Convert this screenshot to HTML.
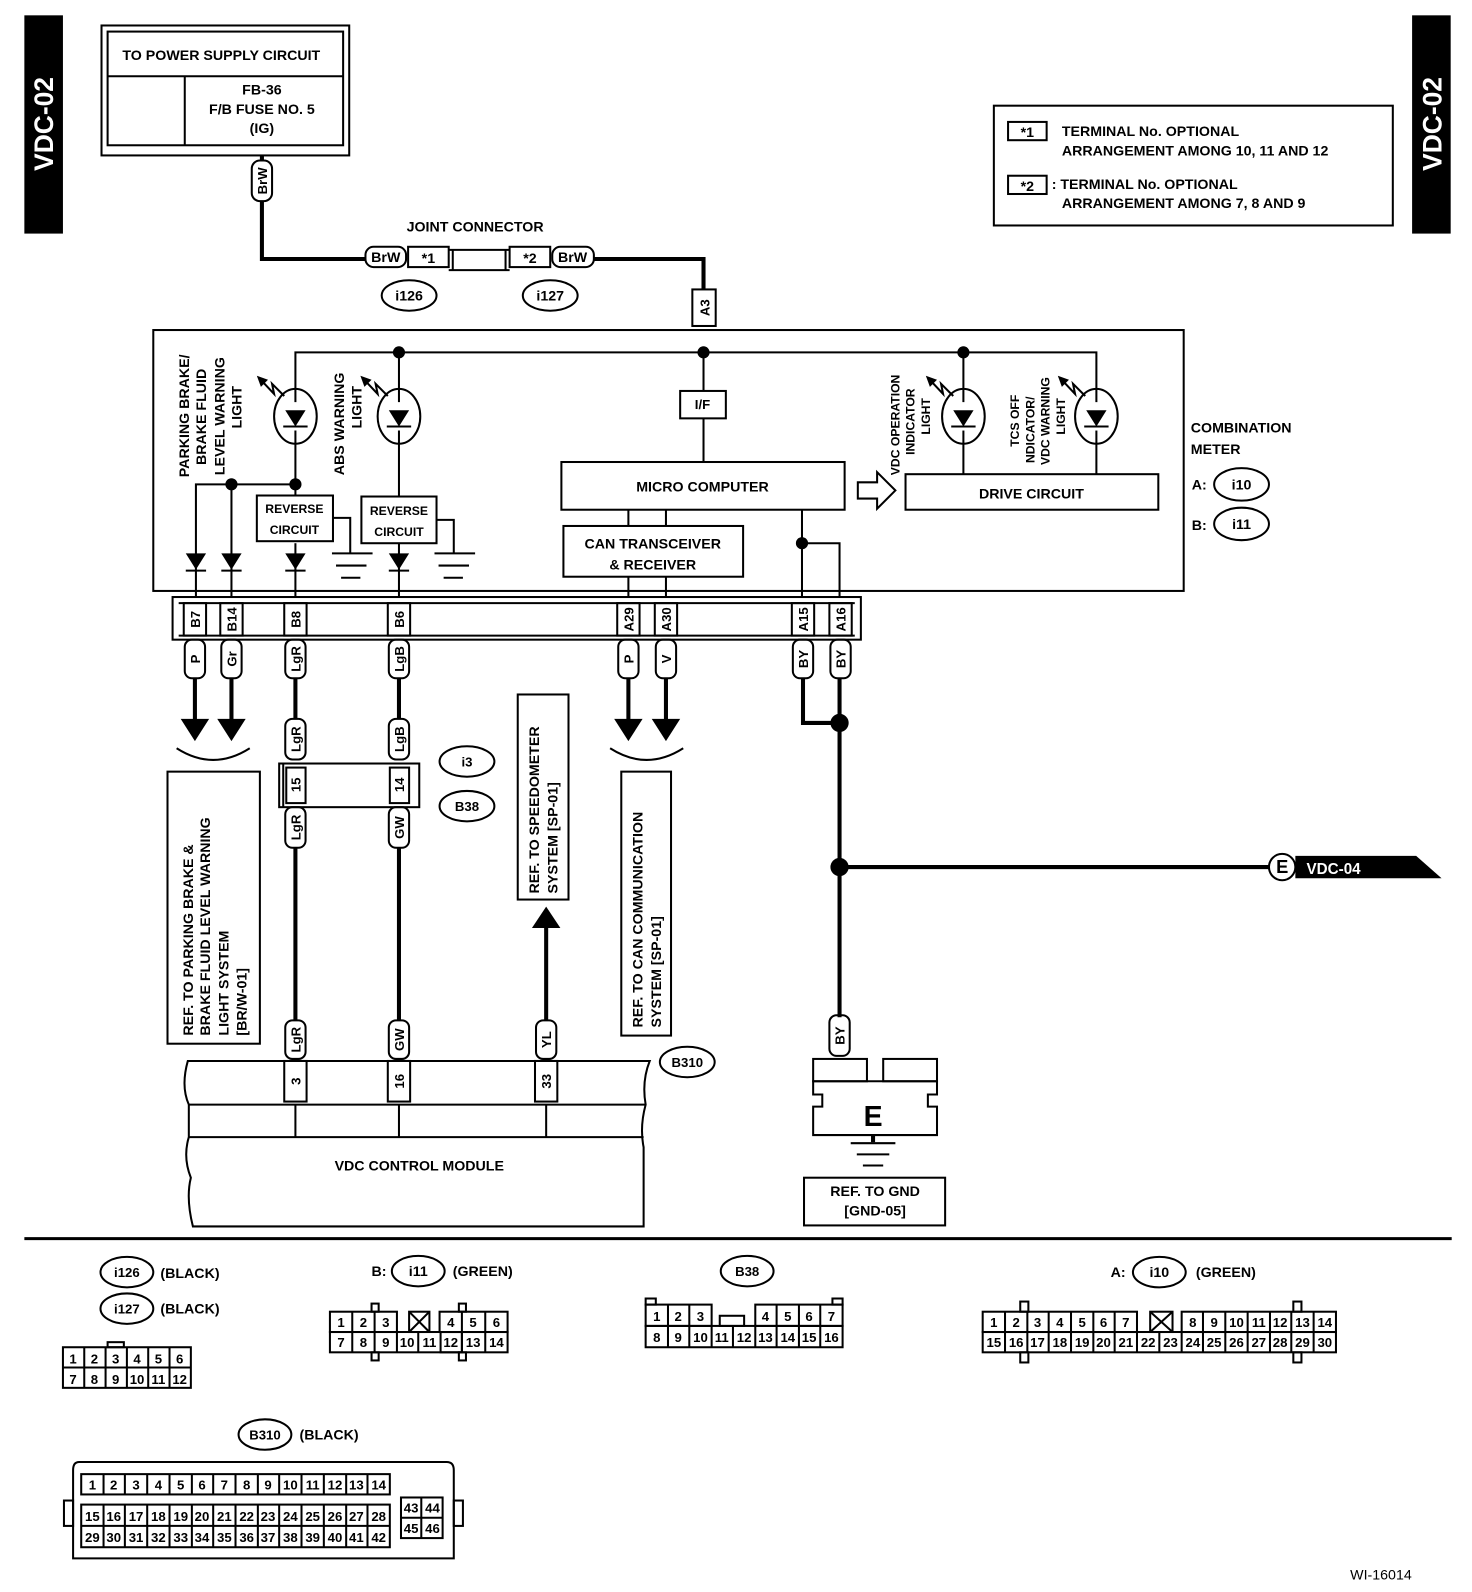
<!DOCTYPE html>
<html><head><meta charset="utf-8"><style>
html,body{margin:0;padding:0;background:#fff;}
svg{display:block;}
text{font-family:"Liberation Sans",sans-serif;font-weight:bold;fill:#000;}
</style></head><body>
<svg width="1472" height="1592" viewBox="0 0 1450 1568" xmlns="http://www.w3.org/2000/svg">
<rect width="1472" height="1592" fill="#fff"/>
<rect x="24" y="15" width="38" height="215" fill="#000"/>
<text transform="translate(52,122) rotate(-90)" text-anchor="middle" font-size="26" style="fill:#fff">VDC-02</text>
<rect x="1391" y="15" width="38" height="215" fill="#000"/>
<text transform="translate(1420,122) rotate(-90)" text-anchor="middle" font-size="26" style="fill:#fff">VDC-02</text>

<g fill="none" stroke="#000" stroke-width="2">
<rect x="100" y="25" width="244" height="128"/>
<rect x="106" y="31" width="232" height="112"/>
<line x1="106" y1="75" x2="338" y2="75"/>
<line x1="182" y1="75" x2="182" y2="143"/>
<polyline points="258,153 258,255 362,255" stroke-width="4"/>
<polyline points="585,255 693,255 693,285" stroke-width="4"/>
<rect x="402" y="243" width="40" height="20"/>
<line x1="442" y1="246" x2="502" y2="246"/>
<line x1="442" y1="266" x2="502" y2="266"/>
<line x1="446" y1="246" x2="446" y2="266"/>
<line x1="498" y1="246" x2="498" y2="266"/>
<rect x="502" y="243" width="40" height="20"/>
<rect x="360" y="243" width="40" height="20" rx="8" fill="#fff"/>
<rect x="544" y="243" width="41" height="20" rx="8" fill="#fff"/>
<rect x="248" y="158" width="20" height="40" rx="8" fill="#fff"/>
<ellipse cx="403" cy="291" rx="27" ry="15"/>
<ellipse cx="542" cy="291" rx="27" ry="15"/>
<rect x="682" y="285" width="23" height="36" fill="#fff"/>
<rect x="979" y="104" width="393" height="118"/>
<rect x="993" y="120" width="38" height="18"/>
<rect x="993" y="173" width="38" height="18"/>
<rect x="151" y="325" width="1015" height="257"/>
<rect x="170" y="588" width="678" height="42"/>
<line x1="176" y1="594" x2="842" y2="594"/>
<line x1="176" y1="626" x2="842" y2="626"/>
<polyline points="291,396 291,347 1080,347 1080,396"/>
<line x1="393" y1="347" x2="393" y2="396"/>
<line x1="693" y1="347" x2="693" y2="385"/>
<line x1="693" y1="412" x2="693" y2="455"/>
<line x1="949" y1="347" x2="949" y2="396"/>
<ellipse cx="291" cy="410" rx="21" ry="27"/>
<ellipse cx="393" cy="410" rx="21" ry="27"/>
<ellipse cx="949" cy="410" rx="21" ry="27"/>
<ellipse cx="1080" cy="410" rx="21" ry="27"/>
<line x1="291" y1="424" x2="291" y2="488"/>
<line x1="393" y1="424" x2="393" y2="488"/>
<line x1="949" y1="424" x2="949" y2="467"/>
<line x1="1080" y1="424" x2="1080" y2="467"/>
<line x1="279" y1="420" x2="303" y2="420"/>
<line x1="381" y1="420" x2="405" y2="420"/>
<line x1="937" y1="420" x2="961" y2="420"/>
<line x1="1068" y1="420" x2="1092" y2="420"/>
<path d="M255,372 L270,388 L268,378 L280,390"/>
<path d="M357,372 L372,388 L370,378 L382,390"/>
<path d="M914,372 L929,388 L927,378 L939,390"/>
<path d="M1044,372 L1059,388 L1057,378 L1069,390"/>
<polyline points="193,588 193,477 291,477"/>
<line x1="228" y1="477" x2="228" y2="588"/>
<line x1="291" y1="535" x2="291" y2="588"/>
<line x1="393" y1="535" x2="393" y2="588"/>
<rect x="253" y="488" width="75" height="45"/>
<rect x="356" y="489" width="74" height="46"/>
<polyline points="328,510 345,510 345,545"/>
<polyline points="430,512 447,512 447,545"/>
<line x1="327" y1="545" x2="367" y2="545"/><line x1="331" y1="557" x2="361" y2="557"/><line x1="336" y1="569" x2="355" y2="569"/>
<line x1="428" y1="545" x2="468" y2="545"/><line x1="432" y1="557" x2="462" y2="557"/><line x1="437" y1="569" x2="456" y2="569"/>
<line x1="183" y1="562" x2="203" y2="562"/><line x1="218" y1="562" x2="238" y2="562"/><line x1="281" y1="562" x2="301" y2="562"/><line x1="383" y1="562" x2="403" y2="562"/>
<rect x="670" y="385" width="45" height="27"/>
<rect x="553" y="455" width="279" height="47"/>
<rect x="555" y="518" width="177" height="50"/>
<line x1="619" y1="502" x2="619" y2="518"/><line x1="656" y1="502" x2="656" y2="518"/>
<line x1="619" y1="568" x2="619" y2="588"/><line x1="656" y1="568" x2="656" y2="588"/>
<line x1="790" y1="502" x2="790" y2="588"/>
<polyline points="790,535 827,535 827,588"/>
<path d="M845,475 L864,475 L864,465 L882,483 L864,501 L864,491 L845,491 Z"/>
<rect x="892" y="467" width="249" height="35"/>
<rect x="181" y="594" width="22" height="32"/><rect x="217" y="594" width="22" height="32"/>
<rect x="280" y="594" width="22" height="32"/><rect x="382" y="594" width="22" height="32"/>
<rect x="608" y="594" width="22" height="32"/><rect x="645" y="594" width="22" height="32"/>
<rect x="780" y="594" width="22" height="32"/><rect x="817" y="594" width="22" height="32"/>
<rect x="182" y="630" width="20" height="38" rx="7"/><rect x="218" y="630" width="20" height="38" rx="7"/>
<rect x="281" y="630" width="20" height="38" rx="7"/><rect x="383" y="630" width="20" height="38" rx="7"/>
<rect x="609" y="630" width="20" height="38" rx="7"/><rect x="646" y="630" width="20" height="38" rx="7"/>
<rect x="781" y="630" width="20" height="38" rx="7"/><rect x="818" y="630" width="20" height="38" rx="7"/>
</g>
<g fill="#000">
<circle cx="393" cy="347" r="6"/><circle cx="693" cy="347" r="6"/><circle cx="949" cy="347" r="6"/>
<circle cx="291" cy="477" r="6"/><circle cx="228" cy="477" r="6"/><circle cx="790" cy="535" r="6"/>
<polygon points="281,404 301,404 291,420"/><polygon points="383,404 403,404 393,420"/>
<polygon points="939,404 959,404 949,420"/><polygon points="1070,404 1090,404 1080,420"/>
<polygon points="253,370 264,374 257,381"/><polygon points="355,370 366,374 359,381"/>
<polygon points="912,370 923,374 916,381"/><polygon points="1042,370 1053,374 1046,381"/>
<polygon points="183,545 203,545 193,561"/><polygon points="218,545 238,545 228,561"/>
<polygon points="281,545 301,545 291,561"/><polygon points="383,545 403,545 393,561"/>
</g>
<g font-size="14">
<text x="218" y="59" text-anchor="middle">TO POWER SUPPLY CIRCUIT</text>
<text x="258" y="93" text-anchor="middle">FB-36</text>
<text x="258" y="112" text-anchor="middle">F/B FUSE NO. 5</text>
<text x="258" y="131" text-anchor="middle">(IG)</text>
<text transform="translate(263,178) rotate(-90)" text-anchor="middle" font-size="13">BrW</text>
<text x="468" y="228" text-anchor="middle">JOINT CONNECTOR</text>
<text x="380" y="258" text-anchor="middle">BrW</text>
<text x="422" y="259" text-anchor="middle">*1</text>
<text x="522" y="259" text-anchor="middle">*2</text>
<text x="564" y="258" text-anchor="middle">BrW</text>
<text x="403" y="296" text-anchor="middle">i126</text>
<text x="542" y="296" text-anchor="middle">i127</text>
<text transform="translate(699,303) rotate(-90)" text-anchor="middle" font-size="13">A3</text>
<text x="1012" y="135" text-anchor="middle">*1</text>
<text x="1012" y="188" text-anchor="middle">*2</text>
<text x="1046" y="134">TERMINAL No. OPTIONAL</text>
<text x="1046" y="153">ARRANGEMENT AMONG 10, 11  AND 12</text>
<text x="1036" y="186">: TERMINAL No. OPTIONAL</text>
<text x="1046" y="205">ARRANGEMENT AMONG 7, 8  AND 9</text>
<text x="1173" y="426">COMBINATION</text>
<text x="1173" y="447">METER</text>
<text x="1174" y="482">A:</text><text x="1174" y="522">B:</text>
<text x="692" y="403" text-anchor="middle" font-size="13">I/F</text>
<text x="692" y="484" text-anchor="middle">MICRO COMPUTER</text>
<text x="643" y="540" text-anchor="middle">CAN TRANSCEIVER</text>
<text x="643" y="561" text-anchor="middle">&amp; RECEIVER</text>
<text x="1016" y="491" text-anchor="middle">DRIVE CIRCUIT</text>
<text x="290" y="505" text-anchor="middle" font-size="12">REVERSE</text>
<text x="290" y="526" text-anchor="middle" font-size="12">CIRCUIT</text>
<text x="393" y="507" text-anchor="middle" font-size="12">REVERSE</text>
<text x="393" y="528" text-anchor="middle" font-size="12">CIRCUIT</text>
</g>
<g font-size="14" text-anchor="start">
<text transform="translate(186,470) rotate(-90)">PARKING BRAKE/</text>
<text transform="translate(203,458) rotate(-90)">BRAKE FLUID</text>
<text transform="translate(221,468) rotate(-90)">LEVEL WARNING</text>
<text transform="translate(238,422) rotate(-90)">LIGHT</text>
<text transform="translate(339,468) rotate(-90)">ABS WARNING</text>
<text transform="translate(356,422) rotate(-90)">LIGHT</text>
</g>
<g font-size="12" text-anchor="start">
<text transform="translate(886,468) rotate(-90)">VDC OPERATION</text>
<text transform="translate(901,448) rotate(-90)">INDICATOR</text>
<text transform="translate(916,428) rotate(-90)">LIGHT</text>
<text transform="translate(1004,440) rotate(-90)">TCS OFF</text>
<text transform="translate(1019,456) rotate(-90)">NDICATOR/</text>
<text transform="translate(1034,458) rotate(-90)">VDC WARNING</text>
<text transform="translate(1049,428) rotate(-90)">LIGHT</text>
</g>
<g fill="none" stroke="#000" stroke-width="2">
<ellipse cx="1223" cy="477" rx="27" ry="16"/>
<ellipse cx="1223" cy="516" rx="27" ry="16"/>
</g>
<g font-size="14" text-anchor="middle">
<text x="1223" y="482">i10</text><text x="1223" y="521">i11</text>
</g>
<g font-size="13" text-anchor="middle">
<text transform="translate(197,610) rotate(-90)">B7</text>
<text transform="translate(233,610) rotate(-90)">B14</text>
<text transform="translate(296,610) rotate(-90)">B8</text>
<text transform="translate(398,610) rotate(-90)">B6</text>
<text transform="translate(624,610) rotate(-90)">A29</text>
<text transform="translate(661,610) rotate(-90)">A30</text>
<text transform="translate(796,610) rotate(-90)">A15</text>
<text transform="translate(833,610) rotate(-90)">A16</text>
<text transform="translate(197,649) rotate(-90)">P</text>
<text transform="translate(233,649) rotate(-90)">Gr</text>
<text transform="translate(296,649) rotate(-90)">LgR</text>
<text transform="translate(398,649) rotate(-90)">LgB</text>
<text transform="translate(624,649) rotate(-90)">P</text>
<text transform="translate(661,649) rotate(-90)">V</text>
<text transform="translate(796,649) rotate(-90)">BY</text>
<text transform="translate(833,649) rotate(-90)">BY</text>
</g>

<g fill="none" stroke="#000" stroke-width="4">
<line x1="192" y1="668" x2="192" y2="710"/><line x1="228" y1="668" x2="228" y2="710"/>
<line x1="619" y1="668" x2="619" y2="710"/><line x1="656" y1="668" x2="656" y2="710"/>
<line x1="291" y1="668" x2="291" y2="708"/><line x1="393" y1="668" x2="393" y2="708"/>
<line x1="291" y1="835" x2="291" y2="1005"/><line x1="393" y1="835" x2="393" y2="1005"/>
<line x1="538" y1="1005" x2="538" y2="912"/>
<polyline points="791,668 791,712 827,712"/>
<line x1="827" y1="668" x2="827" y2="1002"/>
<line x1="827" y1="854" x2="1250" y2="854"/>
<line x1="860" y1="1118" x2="860" y2="1125"/>
</g>
<g fill="#000">
<polygon points="178,708 206,708 192,730"/><polygon points="214,708 242,708 228,730"/>
<polygon points="605,708 633,708 619,730"/><polygon points="642,708 670,708 656,730"/>
<polygon points="524,914 552,914 538,893"/>
<circle cx="827" cy="712" r="9"/><circle cx="827" cy="854" r="9"/>
<path d="M1276,843 L1395,843 L1420,865 L1276,865 Z"/>
</g>
<g fill="none" stroke="#000" stroke-width="2">
<path d="M174,737 Q210,760 246,737"/>
<path d="M601,737 Q637,760 673,737"/>
<rect x="165" y="760" width="91" height="268"/>
<rect x="612" y="760" width="49" height="260"/>
<rect x="510" y="684" width="50" height="202"/>
<rect x="281" y="708" width="20" height="40" rx="7"/><rect x="383" y="708" width="20" height="40" rx="7"/>
<rect x="275" y="752" width="138" height="43"/>
<line x1="279" y1="752" x2="279" y2="795"/>
<rect x="282" y="756" width="19" height="35"/><rect x="384" y="756" width="19" height="35"/>
<rect x="281" y="795" width="20" height="40" rx="7"/><rect x="383" y="795" width="20" height="40" rx="7"/>
<ellipse cx="460" cy="750" rx="27" ry="15"/><ellipse cx="460" cy="794" rx="27" ry="15"/>
<rect x="281" y="1005" width="20" height="38" rx="7"/><rect x="383" y="1005" width="20" height="38" rx="7"/><rect x="528" y="1005" width="20" height="38" rx="7"/>
<rect x="817" y="1000" width="20" height="40" rx="7"/>
<circle cx="1263" cy="854" r="13" fill="#fff"/>
<path d="M185,1045 L640,1045 Q632,1065 636,1088 Q630,1110 634,1130 L634,1208 L190,1208 Q183,1180 188,1160 Q180,1140 186,1120 L186,1088 Q178,1070 185,1045 Z"/>
<line x1="186" y1="1088" x2="636" y2="1088"/>
<line x1="186" y1="1120" x2="634" y2="1120"/>
<line x1="291" y1="1088" x2="291" y2="1120"/><line x1="393" y1="1088" x2="393" y2="1120"/><line x1="538" y1="1088" x2="538" y2="1120"/>
<rect x="280" y="1045" width="22" height="40"/><rect x="382" y="1045" width="22" height="40"/><rect x="527" y="1045" width="22" height="40"/>
<ellipse cx="677" cy="1046" rx="27" ry="15"/>
<rect x="801" y="1043" width="53" height="22"/><rect x="870" y="1043" width="53" height="22"/>
<path d="M801,1065 L923,1065 L923,1078 L914,1078 L914,1090 L923,1090 L923,1118 L801,1118 L801,1090 L810,1090 L810,1078 L801,1078 Z"/>
<line x1="838" y1="1126" x2="882" y2="1126"/><line x1="844" y1="1137" x2="876" y2="1137"/><line x1="850" y1="1148" x2="870" y2="1148"/>
<rect x="792" y="1160" width="139" height="47"/>
</g>
<line x1="24" y1="1220" x2="1430" y2="1220" stroke="#000" stroke-width="3"/>
<g font-size="14">
<text transform="translate(190,1020) rotate(-90)">REF. TO PARKING BRAKE &amp;</text>
<text transform="translate(207,1020) rotate(-90)">BRAKE FLUID LEVEL WARNING</text>
<text transform="translate(225,1020) rotate(-90)">LIGHT SYSTEM</text>
<text transform="translate(243,1020) rotate(-90)">[BR/W-01]</text>
<text transform="translate(633,1012) rotate(-90)">REF. TO CAN COMMUNICATION</text>
<text transform="translate(651,1012) rotate(-90)">SYSTEM [SP-01]</text>
<text transform="translate(531,880) rotate(-90)">REF. TO SPEEDOMETER</text>
<text transform="translate(549,880) rotate(-90)">SYSTEM [SP-01]</text>
<text x="413" y="1153" text-anchor="middle">VDC CONTROL MODULE</text>
<text x="862" y="1178" text-anchor="middle">REF. TO GND</text>
<text x="862" y="1197" text-anchor="middle">[GND-05]</text>
<text x="860" y="1109" text-anchor="middle" font-size="28">E</text>
<text x="1263" y="860" text-anchor="middle" font-size="18">E</text>
<text x="1287" y="861" font-size="15" style="fill:#fff">VDC-04</text>
<text x="460" y="755" text-anchor="middle" font-size="13">i3</text>
<text x="460" y="799" text-anchor="middle" font-size="13">B38</text>
<text x="677" y="1051" text-anchor="middle" font-size="13">B310</text>
</g>
<g font-size="13" text-anchor="middle">
<text transform="translate(296,728) rotate(-90)">LgR</text>
<text transform="translate(398,728) rotate(-90)">LgB</text>
<text transform="translate(296,773) rotate(-90)">15</text>
<text transform="translate(398,773) rotate(-90)">14</text>
<text transform="translate(296,815) rotate(-90)">LgR</text>
<text transform="translate(398,815) rotate(-90)">GW</text>
<text transform="translate(296,1024) rotate(-90)">LgR</text>
<text transform="translate(398,1024) rotate(-90)">GW</text>
<text transform="translate(543,1024) rotate(-90)">YL</text>
<text transform="translate(832,1020) rotate(-90)">BY</text>
<text transform="translate(296,1065) rotate(-90)">3</text>
<text transform="translate(398,1065) rotate(-90)">16</text>
<text transform="translate(543,1065) rotate(-90)">33</text>
</g>

<g fill="none" stroke="#000" stroke-width="2">
<ellipse cx="125" cy="1253" rx="26" ry="15"/><ellipse cx="125" cy="1289" rx="26" ry="15"/>
<ellipse cx="412" cy="1252" rx="26" ry="15"/><ellipse cx="736" cy="1252" rx="26" ry="15"/>
<ellipse cx="1142" cy="1253" rx="26" ry="15"/><ellipse cx="261" cy="1413" rx="26" ry="15"/>
<rect x="62" y="1327" width="126" height="40"/><line x1="62" y1="1347" x2="188" y2="1347"/>
<line x1="83" y1="1327" x2="83" y2="1367"/><line x1="104" y1="1327" x2="104" y2="1367"/><line x1="125" y1="1327" x2="125" y2="1367"/><line x1="146" y1="1327" x2="146" y2="1367"/><line x1="167" y1="1327" x2="167" y2="1367"/>
<rect x="106" y="1322" width="16" height="5"/>
<rect x="325" y="1292" width="66" height="20"/><rect x="433" y="1292" width="67" height="20"/>
<rect x="325" y="1312" width="175" height="20"/>
<line x1="347" y1="1292" x2="347" y2="1332"/><line x1="369" y1="1292" x2="369" y2="1332"/><line x1="391" y1="1312" x2="391" y2="1332"/>
<line x1="412" y1="1312" x2="412" y2="1332"/><line x1="455" y1="1292" x2="455" y2="1332"/><line x1="478" y1="1292" x2="478" y2="1332"/>
<rect x="403" y="1292" width="20" height="20"/><line x1="403" y1="1292" x2="423" y2="1312"/><line x1="423" y1="1292" x2="403" y2="1312"/>
<rect x="434" y="1312" width="21" height="20"/>
<rect x="366" y="1284" width="7" height="8"/><rect x="452" y="1284" width="7" height="8"/>
<rect x="366" y="1332" width="7" height="8"/><rect x="452" y="1332" width="7" height="8"/>
<rect x="636" y="1285" width="65" height="21"/><rect x="744" y="1285" width="86" height="21"/>
<rect x="636" y="1306" width="194" height="21"/>
<line x1="658" y1="1285" x2="658" y2="1327"/><line x1="679" y1="1285" x2="679" y2="1327"/><line x1="701" y1="1306" x2="701" y2="1327"/>
<line x1="722" y1="1306" x2="722" y2="1327"/><line x1="744" y1="1306" x2="744" y2="1327"/><line x1="765" y1="1285" x2="765" y2="1327"/>
<line x1="787" y1="1285" x2="787" y2="1327"/><line x1="808" y1="1285" x2="808" y2="1327"/>
<rect x="709" y="1296" width="24" height="10"/>
<rect x="636" y="1279" width="10" height="6"/><rect x="820" y="1279" width="10" height="6"/>
<rect x="968" y="1292" width="152" height="20"/><rect x="1164" y="1292" width="152" height="20"/>
<rect x="968" y="1312" width="348" height="20"/>
<line x1="990" y1="1292" x2="990" y2="1332"/><line x1="1012" y1="1292" x2="1012" y2="1332"/><line x1="1033" y1="1292" x2="1033" y2="1332"/><line x1="1055" y1="1292" x2="1055" y2="1332"/><line x1="1077" y1="1292" x2="1077" y2="1332"/><line x1="1098" y1="1292" x2="1098" y2="1332"/>
<line x1="1120" y1="1312" x2="1120" y2="1332"/><line x1="1142" y1="1312" x2="1142" y2="1332"/><line x1="1164" y1="1312" x2="1164" y2="1332"/>
<line x1="1185" y1="1292" x2="1185" y2="1332"/><line x1="1207" y1="1292" x2="1207" y2="1332"/><line x1="1229" y1="1292" x2="1229" y2="1332"/><line x1="1251" y1="1292" x2="1251" y2="1332"/><line x1="1272" y1="1292" x2="1272" y2="1332"/><line x1="1294" y1="1292" x2="1294" y2="1332"/>
<rect x="1133" y="1292" width="22" height="20"/><line x1="1133" y1="1292" x2="1155" y2="1312"/><line x1="1155" y1="1292" x2="1133" y2="1312"/>
<rect x="1005" y="1282" width="8" height="10"/><rect x="1274" y="1282" width="8" height="10"/>
<rect x="1005" y="1332" width="8" height="10"/><rect x="1274" y="1332" width="8" height="10"/>
<path d="M78,1440 L440,1440 Q447,1440 447,1448 L447,1535 L72,1535 L72,1448 Q72,1440 78,1440 Z"/>
<rect x="63" y="1478" width="9" height="25"/><rect x="447" y="1478" width="9" height="25"/>
<rect x="80" y="1452" width="304" height="20"/>
<rect x="80" y="1482" width="304" height="42"/><line x1="80" y1="1503" x2="384" y2="1503"/>
<rect x="395" y="1475" width="41" height="40"/><line x1="395" y1="1495" x2="436" y2="1495"/><line x1="415" y1="1475" x2="415" y2="1515"/>
<g>
<line x1="102" y1="1452" x2="102" y2="1472"/><line x1="123" y1="1452" x2="123" y2="1472"/><line x1="145" y1="1452" x2="145" y2="1472"/><line x1="167" y1="1452" x2="167" y2="1472"/><line x1="189" y1="1452" x2="189" y2="1472"/><line x1="210" y1="1452" x2="210" y2="1472"/><line x1="232" y1="1452" x2="232" y2="1472"/><line x1="254" y1="1452" x2="254" y2="1472"/><line x1="275" y1="1452" x2="275" y2="1472"/><line x1="297" y1="1452" x2="297" y2="1472"/><line x1="319" y1="1452" x2="319" y2="1472"/><line x1="341" y1="1452" x2="341" y2="1472"/><line x1="362" y1="1452" x2="362" y2="1472"/>
<line x1="102" y1="1482" x2="102" y2="1524"/><line x1="123" y1="1482" x2="123" y2="1524"/><line x1="145" y1="1482" x2="145" y2="1524"/><line x1="167" y1="1482" x2="167" y2="1524"/><line x1="189" y1="1482" x2="189" y2="1524"/><line x1="210" y1="1482" x2="210" y2="1524"/><line x1="232" y1="1482" x2="232" y2="1524"/><line x1="254" y1="1482" x2="254" y2="1524"/><line x1="275" y1="1482" x2="275" y2="1524"/><line x1="297" y1="1482" x2="297" y2="1524"/><line x1="319" y1="1482" x2="319" y2="1524"/><line x1="341" y1="1482" x2="341" y2="1524"/><line x1="362" y1="1482" x2="362" y2="1524"/>
</g>
</g>
<g font-size="14">
<text x="125" y="1258" text-anchor="middle" font-size="13">i126</text><text x="158" y="1259">(BLACK)</text>
<text x="125" y="1294" text-anchor="middle" font-size="13">i127</text><text x="158" y="1294">(BLACK)</text>
<text x="366" y="1257">B:</text><text x="412" y="1257" text-anchor="middle">i11</text><text x="446" y="1257">(GREEN)</text>
<text x="736" y="1257" text-anchor="middle" font-size="13">B38</text>
<text x="1094" y="1258">A:</text><text x="1142" y="1258" text-anchor="middle">i10</text><text x="1178" y="1258">(GREEN)</text>
<text x="261" y="1418" text-anchor="middle" font-size="13">B310</text><text x="295" y="1418">(BLACK)</text>
<text x="1330" y="1556" style="font-weight:normal">WI-16014</text>
</g>
<g font-size="13" text-anchor="middle" style="font-weight:normal">
<text x="72" y="1343">1</text><text x="93" y="1343">2</text><text x="114" y="1343">3</text><text x="135" y="1343">4</text><text x="156" y="1343">5</text><text x="177" y="1343">6</text>
<text x="72" y="1363">7</text><text x="93" y="1363">8</text><text x="114" y="1363">9</text><text x="135" y="1363">10</text><text x="156" y="1363">11</text><text x="177" y="1363">12</text>
<text x="336" y="1307">1</text><text x="358" y="1307">2</text><text x="380" y="1307">3</text><text x="444" y="1307">4</text><text x="466" y="1307">5</text><text x="489" y="1307">6</text>
<text x="336" y="1327">7</text><text x="358" y="1327">8</text><text x="380" y="1327">9</text><text x="401" y="1327">10</text><text x="423" y="1327">11</text><text x="444" y="1327">12</text><text x="466" y="1327">13</text><text x="489" y="1327">14</text>
<text x="647" y="1301">1</text><text x="668" y="1301">2</text><text x="690" y="1301">3</text><text x="754" y="1301">4</text><text x="776" y="1301">5</text><text x="797" y="1301">6</text><text x="819" y="1301">7</text>
<text x="647" y="1322">8</text><text x="668" y="1322">9</text><text x="690" y="1322">10</text><text x="711" y="1322">11</text><text x="733" y="1322">12</text><text x="754" y="1322">13</text><text x="776" y="1322">14</text><text x="797" y="1322">15</text><text x="819" y="1322">16</text>
<text x="979" y="1307">1</text><text x="1001" y="1307">2</text><text x="1022" y="1307">3</text><text x="1044" y="1307">4</text><text x="1066" y="1307">5</text><text x="1087" y="1307">6</text><text x="1109" y="1307">7</text>
<text x="1175" y="1307">8</text><text x="1196" y="1307">9</text><text x="1218" y="1307">10</text><text x="1240" y="1307">11</text><text x="1261" y="1307">12</text><text x="1283" y="1307">13</text><text x="1305" y="1307">14</text>
<text x="979" y="1327">15</text><text x="1001" y="1327">16</text><text x="1022" y="1327">17</text><text x="1044" y="1327">18</text><text x="1066" y="1327">19</text><text x="1087" y="1327">20</text><text x="1109" y="1327">21</text><text x="1131" y="1327">22</text><text x="1153" y="1327">23</text><text x="1175" y="1327">24</text><text x="1196" y="1327">25</text><text x="1218" y="1327">26</text><text x="1240" y="1327">27</text><text x="1261" y="1327">28</text><text x="1283" y="1327">29</text><text x="1305" y="1327">30</text>
<text x="91" y="1467">1</text><text x="112" y="1467">2</text><text x="134" y="1467">3</text><text x="156" y="1467">4</text><text x="178" y="1467">5</text><text x="199" y="1467">6</text><text x="221" y="1467">7</text><text x="243" y="1467">8</text><text x="264" y="1467">9</text><text x="286" y="1467">10</text><text x="308" y="1467">11</text><text x="330" y="1467">12</text><text x="351" y="1467">13</text><text x="373" y="1467">14</text>
<text x="91" y="1498">15</text><text x="112" y="1498">16</text><text x="134" y="1498">17</text><text x="156" y="1498">18</text><text x="178" y="1498">19</text><text x="199" y="1498">20</text><text x="221" y="1498">21</text><text x="243" y="1498">22</text><text x="264" y="1498">23</text><text x="286" y="1498">24</text><text x="308" y="1498">25</text><text x="330" y="1498">26</text><text x="351" y="1498">27</text><text x="373" y="1498">28</text>
<text x="91" y="1519">29</text><text x="112" y="1519">30</text><text x="134" y="1519">31</text><text x="156" y="1519">32</text><text x="178" y="1519">33</text><text x="199" y="1519">34</text><text x="221" y="1519">35</text><text x="243" y="1519">36</text><text x="264" y="1519">37</text><text x="286" y="1519">38</text><text x="308" y="1519">39</text><text x="330" y="1519">40</text><text x="351" y="1519">41</text><text x="373" y="1519">42</text>
<text x="405" y="1490">43</text><text x="426" y="1490">44</text><text x="405" y="1510">45</text><text x="426" y="1510">46</text>
</g>
</svg>
</body></html>
